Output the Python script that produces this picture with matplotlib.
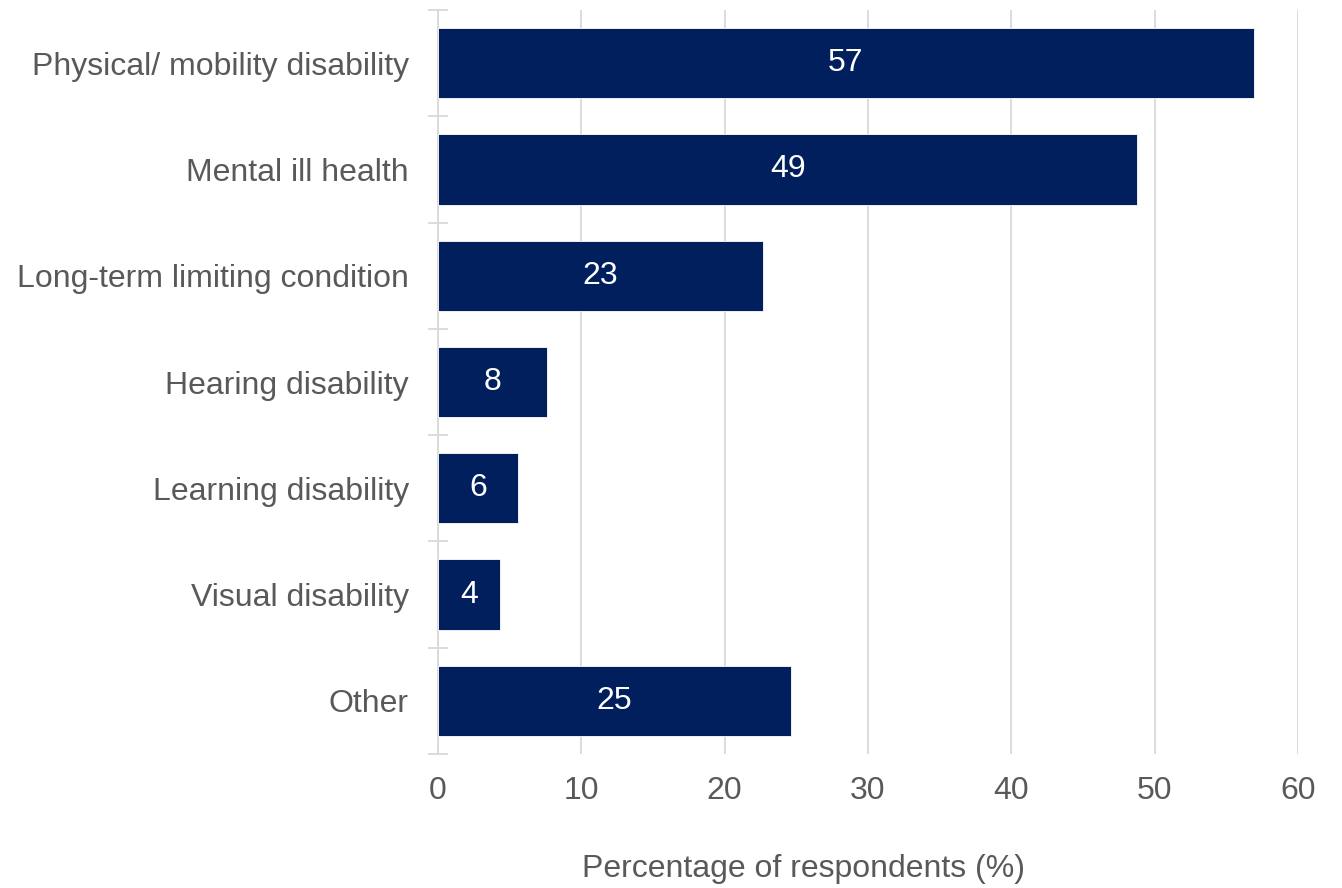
import numpy as np
import matplotlib.pyplot as plt

# data
categories = [
    "Physical/ mobility disability",
    "Mental ill health",
    "Long-term limiting condition",
    "Hearing disability",
    "Learning disability",
    "Visual disability",
    "Other",
]
percentages = [56.9, 48.8, 22.7, 7.6, 5.6, 4.3, 24.6]
x_ticks = [0, 10, 20, 30, 40, 50, 60]

bar_color = "#001F5C"
text_color = "#595959"
grid_color = "#D9D9D9"

plt.rcParams["font.family"] = ["Liberation Sans", "DejaVu Sans"]

fig = plt.figure(figsize=(13.42, 8.88), dpi=100)
ax = fig.add_axes([438 / 1342, 1 - 754 / 888, 860 / 1342, 744 / 888])

y_pos = np.arange(len(categories))
bars = ax.barh(y_pos, percentages, height=0.66, color=bar_color,
               edgecolor="white", linewidth=0.6, zorder=3)

# value labels centred in each bar
for bar, value in zip(bars, percentages):
    ax.text(bar.get_width() / 2, bar.get_y() + bar.get_height() / 2,
            f"{value:.0f}", ha="center", va="center",
            color="white", fontsize=23, zorder=4)

ax.set_ylim(len(categories) - 0.5, -0.5)
ax.set_xlim(0, 60)

ax.set_yticks(y_pos, categories)
ax.set_yticks(np.arange(-0.5, len(categories)), minor=True)
ax.tick_params(axis="y", which="major", length=0, pad=21,
               labelsize=23, labelcolor=text_color)
ax.tick_params(axis="y", which="minor", direction="inout", length=14,
               width=1.3, color=grid_color)

ax.set_xticks(x_ticks, [str(t) for t in x_ticks])
ax.tick_params(axis="x", length=0, pad=16, labelsize=23, labelcolor=text_color)

ax.grid(axis="x", color=grid_color, linewidth=1.3, zorder=0)
ax.set_axisbelow(True)

for side in ["top", "right", "bottom"]:
    ax.spines[side].set_visible(False)
ax.spines["left"].set_color(grid_color)
ax.spines["left"].set_linewidth(1.3)

# axis title sits a little left of the axis centre
ax.set_xlabel("Percentage of respondents (%)", fontsize=23, color=text_color)
ax.xaxis.set_label_coords((803 - 438) / 860, -0.135)

fig.savefig("out.png", dpi=100)
